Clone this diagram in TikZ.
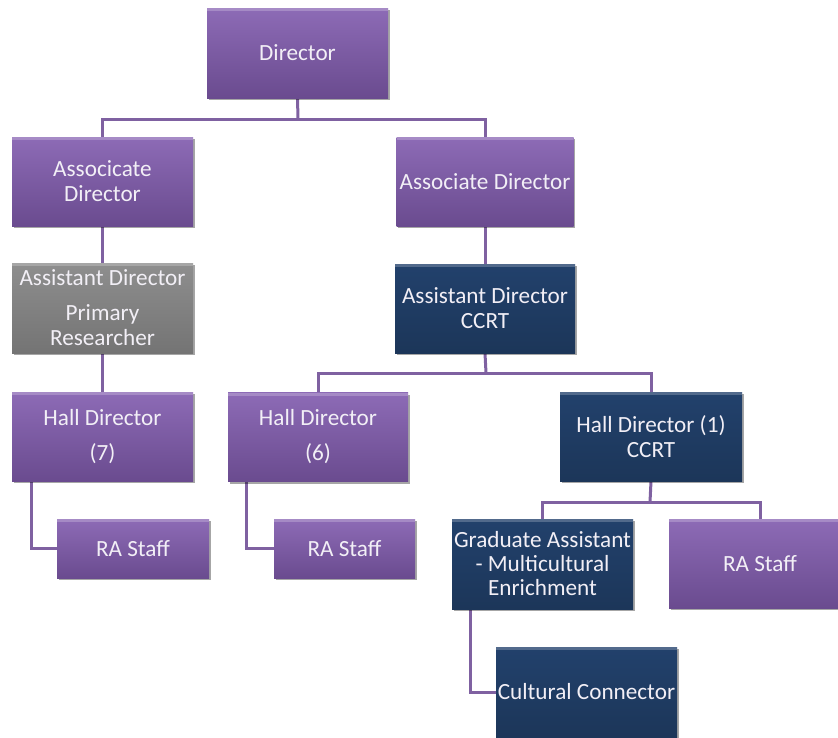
\documentclass[tikz,border=0pt]{standalone}
\usepackage{fontspec}
\setmainfont{Carlito}
\usetikzlibrary{shadows,backgrounds}
\definecolor{pTop}{HTML}{8D6BB6}
\definecolor{pBot}{HTML}{6A4B8F}
\definecolor{nTop}{HTML}{22416C}
\definecolor{nBot}{HTML}{1C3659}
\definecolor{gTop}{HTML}{8E8E8E}
\definecolor{gBot}{HTML}{747474}
\definecolor{lineC}{HTML}{7F61A1}
\definecolor{txtC}{HTML}{F2EFF6}
\tikzset{
  basebox/.style={rectangle, inner sep=0pt, align=center, text=txtC,
    font=\fontsize{23.2}{25}\selectfont,
    drop shadow={shadow xshift=1.5pt, shadow yshift=-2pt, opacity=0.35, fill=black},
    path picture={\fill[white,opacity=0.22] (path picture bounding box.north west) rectangle ([yshift=-3pt]path picture bounding box.north east);}},
  pbox/.style={basebox, top color=pTop, bottom color=pBot},
  nbox/.style={basebox, top color=nTop, bottom color=nBot},
  gbox/.style={basebox, top color=gTop, bottom color=gBot},
  conn/.style={draw=lineC, line width=3pt},
}
\begin{document}
\begin{tikzpicture}[x=1pt,y=-1pt]
\useasboundingbox (0,0) rectangle (838,737);
\clip (0,0) rectangle (838,737);
% boxes
\node[pbox, minimum width=181pt, minimum height=90pt] (dir) at (297.5,53) {Director};
\node[pbox, minimum width=181pt, minimum height=89pt] (ad1) at (102.5,181.5) {Associcate\\Director};
\node[pbox, minimum width=177pt, minimum height=89pt] (ad2) at (485,181.5) {Associate Director};
\node[gbox, minimum width=181pt, minimum height=90pt] (asr) at (102.5,308) {Assistant Director\\[10pt]Primary\\Researcher};
\node[nbox, minimum width=180pt, minimum height=89pt] (acc) at (485,308.5) {Assistant Director\\CCRT};
\node[pbox, minimum width=181pt, minimum height=89pt] (hd7) at (102.5,436.5) {Hall Director\\[10pt](7)};
\node[pbox, minimum width=180pt, minimum height=89pt] (hd6) at (318,437) {Hall Director\\[10pt](6)};
\node[nbox, minimum width=182pt, minimum height=89pt] (hd1) at (651,436.5) {Hall Director (1)\\CCRT};
\node[pbox, minimum width=152pt, minimum height=59pt] (ra1) at (133,548.5) {RA Staff};
\node[pbox, minimum width=141pt, minimum height=59pt] (ra2) at (344.5,548.5) {RA Staff};
\node[nbox, minimum width=181pt, minimum height=90pt, font=\fontsize{23.2}{24}\selectfont] (ga) at (542.5,564) {Graduate Assistant\\- Multicultural\\Enrichment};
\node[pbox, minimum width=182pt, minimum height=89pt] (ra3) at (760,563.5) {RA Staff};
\node[nbox, minimum width=181pt, minimum height=90pt] (cul) at (586.5,692) {Cultural Connector};
% connectors
\begin{scope}[on background layer]
\coordinate (j1) at (298,119);
\coordinate (j2) at (486,373);
\coordinate (j3) at (650,502);
\draw[conn] (dir.south) -- (j1);
\draw[conn] (j1) -| (ad1.north);
\draw[conn] (j1) -| (ad2.north);
\draw[conn] (ad1.south) -- (asr.north);
\draw[conn] (ad2.south) -- (acc.north);
\draw[conn] (asr.south) -- (hd7.north);
\draw[conn] (acc.south) -- (j2);
\draw[conn] (j2) -| (hd6.north);
\draw[conn] (j2) -| (hd1.north);
\draw[conn] ([xshift=20pt]hd7.south west) |- (ra1.west);
\draw[conn] ([xshift=19pt]hd6.south west) |- (ra2.west);
\draw[conn] (hd1.south) -- (j3);
\draw[conn] (j3) -| (ga.north);
\draw[conn] (j3) -| (ra3.north);
\draw[conn] ([xshift=19pt]ga.south west) |- (cul.west);
\end{scope}
\end{tikzpicture}
\end{document}
